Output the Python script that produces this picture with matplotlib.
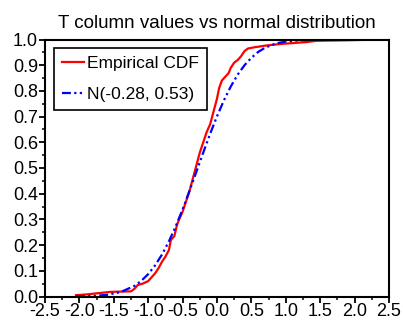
import numpy as np
import matplotlib
matplotlib.use('Agg')
import matplotlib.pyplot as plt
from matplotlib.ticker import MultipleLocator

# empirical CDF points
ecdf_x = [-2.05, -1.9, -1.65, -1.55, -1.25, -1.2, -1.15, -1.08, -1.0, -0.95,
          -0.9, -0.85, -0.8, -0.75, -0.7, -0.67, -0.62, -0.58, -0.55, -0.5,
          -0.45, -0.4, -0.35, -0.3, -0.25, -0.2, -0.15, -0.1, -0.05, 0.0,
          0.03, 0.07, 0.12, 0.17, 0.2, 0.25, 0.3, 0.35, 0.4, 0.45,
          0.55, 0.7, 0.9, 1.1, 1.3, 1.45, 1.9, 2.37]
ecdf_y = [0.005, 0.008, 0.015, 0.018, 0.02, 0.03, 0.045, 0.05, 0.06, 0.075,
          0.09, 0.11, 0.135, 0.155, 0.18, 0.22, 0.235, 0.28, 0.30, 0.33,
          0.37, 0.41, 0.46, 0.51, 0.56, 0.60, 0.64, 0.67, 0.72, 0.77,
          0.81, 0.84, 0.855, 0.87, 0.89, 0.91, 0.92, 0.935, 0.955, 0.965,
          0.97, 0.976, 0.982, 0.986, 0.99, 0.995, 0.997, 1.0]

# fitted normal curve N(-0.28, 0.53)
norm_x = [-2.05, -1.8, -1.6, -1.4, -1.2, -1.1, -1.0, -0.9, -0.8, -0.7,
          -0.6, -0.5, -0.4, -0.3, -0.2, -0.1, 0.0, 0.1, 0.2, 0.3,
          0.4, 0.5, 0.6, 0.7, 0.8, 0.9, 1.0, 1.2, 1.5, 2.0, 2.37]
norm_y = [0.0005, 0.0021, 0.0064, 0.0173, 0.0413, 0.0609, 0.0872, 0.121, 0.163, 0.214,
          0.273, 0.339, 0.411, 0.485, 0.560, 0.633, 0.701, 0.763, 0.817, 0.863,
          0.900, 0.929, 0.952, 0.968, 0.979, 0.987, 0.992, 0.997, 0.9996, 1.0, 1.0]

title = 'T column values vs normal distribution'
labels = ['Empirical CDF', 'N(-0.28, 0.53)']

plt.rcParams['font.family'] = ['Liberation Sans', 'DejaVu Sans']
plt.rcParams['font.size'] = 12

fig = plt.figure(figsize=(4.03, 3.31), dpi=100, facecolor='white')
ax = fig.add_axes([45 / 403, 1 - 296.5 / 331, 344 / 403, 257 / 331])

ax.plot(ecdf_x, ecdf_y, color='#ff0000', lw=1.6, label=labels[0])
ax.plot(norm_x, norm_y, color='#0000ff', lw=1.6,
        linestyle=(0, (4, 1.5, 1, 1.5, 1, 1.5)), label=labels[1])

ax.set_xlim(-2.5, 2.5)
ax.set_ylim(0.0, 1.0)
ax.xaxis.set_major_locator(MultipleLocator(0.5))
ax.xaxis.set_minor_locator(MultipleLocator(0.25))
ax.yaxis.set_major_locator(MultipleLocator(0.1))
ax.yaxis.set_minor_locator(MultipleLocator(0.05))
ax.set_xticklabels(['%.1f' % v for v in ax.get_xticks()])
ax.set_yticklabels(['%.1f' % v for v in ax.get_yticks()])
ax.tick_params(which='major', direction='out', length=4, width=1.3, pad=1,
               top=False, right=False, labelsize=13)
ax.tick_params(which='minor', direction='out', length=2.5, width=1.1,
               top=False, right=False)
for s in ax.spines.values():
    s.set_linewidth(1.5)

ax.set_title(title, fontsize=13.5, pad=8)

leg = ax.legend(loc='upper left', bbox_to_anchor=(0.026, 0.967), borderaxespad=0,
                fancybox=False, framealpha=1, edgecolor='black',
                handlelength=1.3, handletextpad=0.15, labelspacing=0.9,
                borderpad=0.45, fontsize=12.5)
leg.get_frame().set_linewidth(1.2)

fig.savefig('out.png', dpi=100)
